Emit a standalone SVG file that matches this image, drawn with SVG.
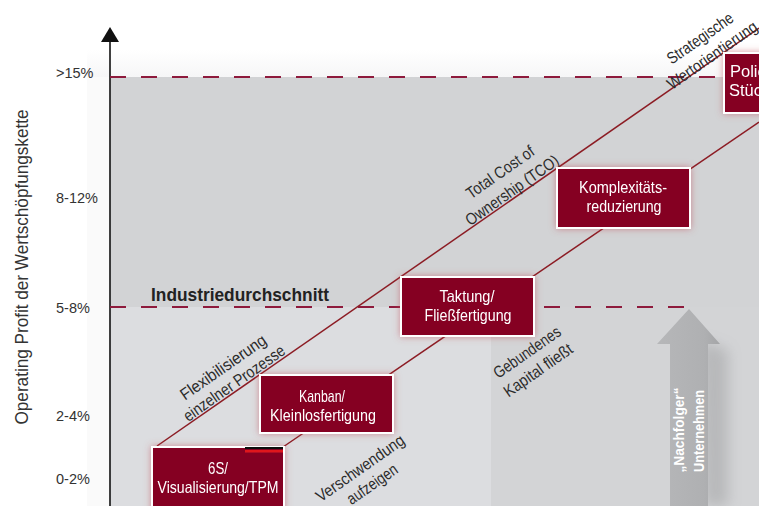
<svg xmlns="http://www.w3.org/2000/svg" width="759" height="506" viewBox="0 0 759 506">
<defs>
<style>
.tick{font-family:"Liberation Sans",Arial,sans-serif;font-size:14.5px;fill:#333}
.lbl{font-family:"Liberation Sans",Arial,sans-serif;font-size:16.5px;fill:#2b2b2b}
.bt{font-family:"Liberation Sans",Arial,sans-serif;font-size:16.5px;fill:#fff;text-anchor:middle}
.box{fill:#850024;stroke:#fff;stroke-width:2}
.conn{stroke:#8c1c24;stroke-width:1.5;fill:none}
.dash{stroke:#8e1a3c;stroke-width:2;stroke-dasharray:16 15;fill:none}
</style>
<filter id="glow" x="-20%" y="-30%" width="140%" height="160%">
<feGaussianBlur in="SourceAlpha" stdDeviation="3.5" result="b"/>
<feFlood flood-color="#c04a55" flood-opacity="0.55"/>
<feComposite in2="b" operator="in" result="s"/>
<feMerge><feMergeNode in="s"/><feMergeNode in="SourceGraphic"/></feMerge>
</filter>
<filter id="blur" x="-80%" y="-20%" width="260%" height="140%"><feGaussianBlur stdDeviation="7"/></filter>
<linearGradient id="shaft" x1="0" y1="0" x2="1" y2="0">
<stop offset="0" stop-color="#b6b7b9"/><stop offset="0.75" stop-color="#afb0b2"/><stop offset="1" stop-color="#a4a5a7"/>
</linearGradient>
<linearGradient id="topfade" x1="0" y1="0" x2="0" y2="1">
<stop offset="0" stop-color="#ffffff"/><stop offset="1" stop-color="#f6f6f7"/>
</linearGradient>
</defs>

<g id="background">
<rect x="0" y="0" width="759" height="506" fill="#fff"/>
<rect x="87" y="50" width="672" height="27" fill="url(#topfade)"/>
<rect x="87" y="77" width="23" height="429" fill="#fafafa"/>
<rect x="110" y="77" width="649" height="230" fill="#d2d3d5"/>
<rect x="110" y="307" width="381" height="199" fill="#dcdde0"/>
<rect x="491" y="307" width="268" height="199" fill="#d3d4d6"/>
</g>

<g id="axis">
<line x1="110" y1="40" x2="110" y2="506" stroke="#111" stroke-width="1.6"/>
<polygon points="110,27 119,42 101,42" fill="#111"/>
<text class="tick" x="56" y="78">&gt;15%</text>
<text class="tick" x="56" y="203">8-12%</text>
<text class="tick" x="56" y="313">5-8%</text>
<text class="tick" x="56" y="421">2-4%</text>
<text class="tick" x="56" y="484">0-2%</text>
<text transform="translate(28,267) rotate(-90)" text-anchor="middle" font-family="Liberation Sans, Arial, sans-serif" font-size="18.5" fill="#333" textLength="315" lengthAdjust="spacingAndGlyphs">Operating Profit der Wertschöpfungskette</text>
</g>

<g id="guides">
<line class="dash" x1="110" y1="77" x2="759" y2="77"/>
<line class="dash" x1="110" y1="307" x2="688" y2="307"/>
<text x="151" y="301" font-family="Liberation Sans, Arial, sans-serif" font-size="19" font-weight="bold" fill="#222" textLength="178" lengthAdjust="spacingAndGlyphs">Industriedurchschnitt</text>
</g>

<g id="successor-arrow">
<polygon points="700,340 728,350 728,506 704,506" fill="#8f9092" opacity="0.4" filter="url(#blur)"/>
<polygon points="689,309 720,344 708,344 708,506 670,506 670,344 657,344" fill="url(#shaft)"/>
<text transform="translate(684,430) rotate(-90)" text-anchor="middle" font-family="Liberation Sans, Arial, sans-serif" font-size="14.5" font-weight="bold" fill="#fff" textLength="85" lengthAdjust="spacingAndGlyphs">„Nachfolger“</text>
<text transform="translate(704,431) rotate(-90)" text-anchor="middle" font-family="Liberation Sans, Arial, sans-serif" font-size="14.5" font-weight="bold" fill="#fff" textLength="82" lengthAdjust="spacingAndGlyphs">Unternehmen</text>
</g>

<g id="connectors">
<line class="conn" x1="157" y1="446" x2="759" y2="28"/>
<line class="conn" x1="283" y1="447" x2="759" y2="122"/>
</g>

<g id="line-labels">
<text class="lbl" text-anchor="middle" dy="0.35em" transform="translate(700,38) rotate(-35)" textLength="77" lengthAdjust="spacingAndGlyphs">Strategische</text>
<text class="lbl" text-anchor="middle" dy="0.35em" transform="translate(712,55) rotate(-35)" textLength="106" lengthAdjust="spacingAndGlyphs">Wertorientierung</text>
<text class="lbl" text-anchor="middle" dy="0.35em" transform="translate(500,172) rotate(-35)" textLength="79" lengthAdjust="spacingAndGlyphs">Total Cost of</text>
<text class="lbl" text-anchor="middle" dy="0.35em" transform="translate(512,190) rotate(-35)" textLength="110" lengthAdjust="spacingAndGlyphs">Ownership (TCO)</text>
<text class="lbl" text-anchor="middle" dy="0.35em" transform="translate(223,367) rotate(-35)" textLength="101" lengthAdjust="spacingAndGlyphs">Flexibilisierung</text>
<text class="lbl" text-anchor="middle" dy="0.35em" transform="translate(234,383) rotate(-35)" textLength="120" lengthAdjust="spacingAndGlyphs">einzelner Prozesse</text>
<text class="lbl" text-anchor="middle" dy="0.35em" transform="translate(360,468) rotate(-35)" textLength="104" lengthAdjust="spacingAndGlyphs">Verschwendung</text>
<text class="lbl" text-anchor="middle" dy="0.35em" transform="translate(372,484) rotate(-35)" textLength="58" lengthAdjust="spacingAndGlyphs">aufzeigen</text>
<text class="lbl" text-anchor="middle" dy="0.35em" transform="translate(527,352) rotate(-35)" textLength="78" lengthAdjust="spacingAndGlyphs">Gebundenes</text>
<text class="lbl" text-anchor="middle" dy="0.35em" transform="translate(538,370) rotate(-35)" textLength="80" lengthAdjust="spacingAndGlyphs">Kapital fließt</text>
</g>

<g id="node-6s" filter="url(#glow)">
<rect class="box" x="152" y="447" width="132" height="70"/>
<rect x="245" y="447" width="38" height="2" fill="#111"/>
<rect x="245" y="450" width="38" height="2.5" fill="#e0141e"/>
<text class="bt" x="218" y="474" textLength="20" lengthAdjust="spacingAndGlyphs">6S/</text>
<text class="bt" x="218" y="493" textLength="121" lengthAdjust="spacingAndGlyphs">Visualisierung/TPM</text>
</g>

<g id="node-kanban" filter="url(#glow)">
<rect class="box" x="260" y="375" width="133" height="58"/>
<text class="bt" x="322" y="402" textLength="46" lengthAdjust="spacingAndGlyphs">Kanban/</text>
<text class="bt" x="323" y="421" textLength="106" lengthAdjust="spacingAndGlyphs">Kleinlosfertigung</text>
</g>

<g id="node-taktung" filter="url(#glow)">
<rect class="box" x="401" y="277" width="133" height="59"/>
<text class="bt" x="467" y="302" textLength="55" lengthAdjust="spacingAndGlyphs">Taktung/</text>
<text class="bt" x="468" y="321" textLength="87" lengthAdjust="spacingAndGlyphs">Fließfertigung</text>
</g>

<g id="node-komplex" filter="url(#glow)">
<rect class="box" x="557" y="168" width="133" height="60"/>
<text class="bt" x="623" y="193" textLength="88" lengthAdjust="spacingAndGlyphs">Komplexitäts-</text>
<text class="bt" x="624" y="212" textLength="75" lengthAdjust="spacingAndGlyphs">reduzierung</text>
</g>

<g id="node-policy" filter="url(#glow)">
<rect class="box" x="724" y="53" width="133" height="60"/>
<text x="730" y="77" font-family="Liberation Sans, Arial, sans-serif" font-size="16.5" fill="#fff">Polic</text>
<text x="729" y="96" font-family="Liberation Sans, Arial, sans-serif" font-size="16.5" fill="#fff">Stück</text>
</g>
</svg>
